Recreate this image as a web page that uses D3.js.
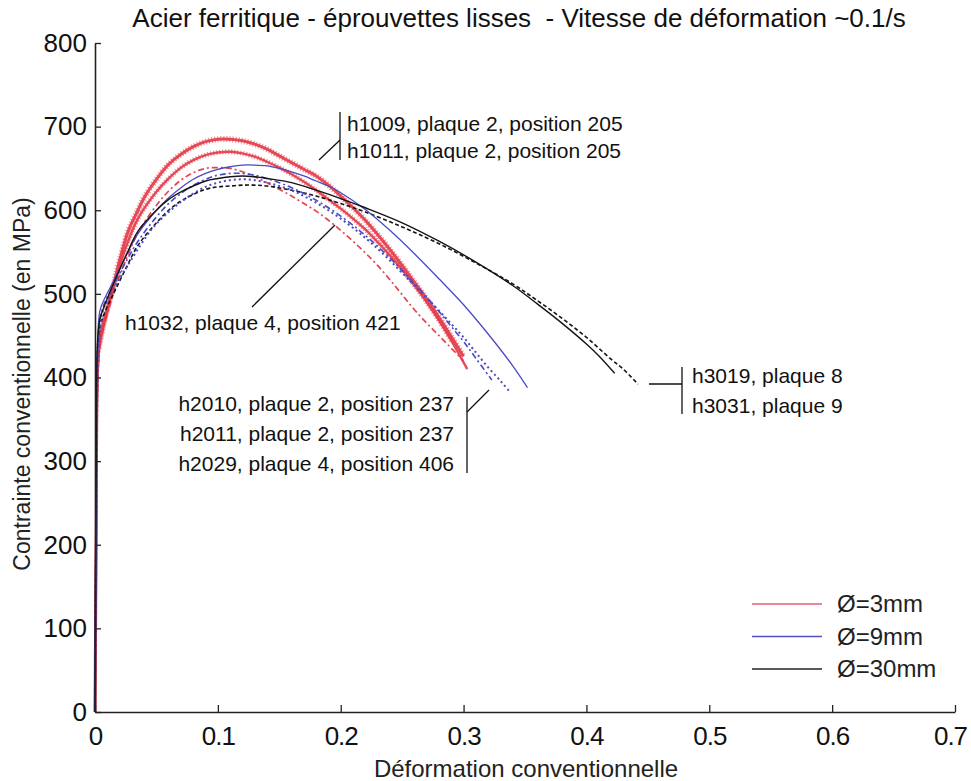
<!DOCTYPE html>
<html>
<head>
<meta charset="utf-8">
<script src="https://cdn.jsdelivr.net/npm/d3@7"></script>
<style>
  html, body { margin: 0; padding: 0; background: #fff; }
  svg { display: block; font-family: "Liberation Sans", Arial, sans-serif; }
  .pre { white-space: pre; }
</style>
</head>
<body>
<svg id="chart" width="971" height="781"></svg>
<script>
// ---------- DATA ----------
const xTicks = [0, 0.1, 0.2, 0.3, 0.4, 0.5, 0.6, 0.7];
const yTicks = [0, 100, 200, 300, 400, 500, 600, 700, 800];

// Ø = 3 mm specimens  [strain, stress MPa]
const h1009 = [[0,0],[0.001,200],[0.003,435],[0.006,460],[0.01,482],[0.015,510],[0.02,540],[0.027,575],[0.035,600],[0.04,615],[0.05,637],[0.06,655],[0.07,667],[0.08,676],[0.09,682],[0.1,685],[0.11,685],[0.12,683],[0.13,679],[0.14,673],[0.15,665],[0.16,657],[0.17,649],[0.18,641],[0.19,630],[0.2,617],[0.21,603],[0.22,588],[0.23,571],[0.24,553],[0.25,534],[0.26,514],[0.27,494],[0.28,472],[0.29,449],[0.30,425]];
const h1011 = [[0,0],[0.001,220],[0.002,400],[0.004,440],[0.008,468],[0.015,508],[0.025,555],[0.035,590],[0.05,622],[0.06,638],[0.07,651],[0.08,660],[0.09,666],[0.1,669],[0.11,670],[0.12,668],[0.13,664],[0.14,658],[0.15,651],[0.16,643],[0.17,634],[0.18,624],[0.19,613],[0.2,602],[0.21,590],[0.22,577],[0.23,562],[0.24,546],[0.25,529],[0.26,510],[0.27,490],[0.28,468],[0.29,444],[0.303,410]];
const h1032 = [[0,0],[0.001,210],[0.002,390],[0.004,438],[0.008,465],[0.015,500],[0.025,540],[0.035,573],[0.05,606],[0.06,623],[0.07,636],[0.08,645],[0.09,650],[0.1,651],[0.11,650],[0.12,646],[0.13,640],[0.14,633],[0.15,625],[0.16,617],[0.17,608],[0.18,599],[0.19,588],[0.2,576],[0.21,563],[0.22,549],[0.23,534],[0.24,517],[0.25,499],[0.26,481],[0.27,465],[0.28,450],[0.29,435],[0.30,420]];

// Ø = 9 mm specimens
const h2010 = [[0,0],[0.001,250],[0.002,430],[0.004,480],[0.008,495],[0.015,515],[0.025,545],[0.035,572],[0.05,600],[0.06,615],[0.07,627],[0.08,637],[0.09,644],[0.1,649],[0.11,652],[0.12,654],[0.13,654],[0.14,653],[0.15,650],[0.16,646],[0.17,641],[0.18,635],[0.19,629],[0.2,621],[0.22,601],[0.24,576],[0.26,548],[0.28,518],[0.30,487],[0.32,452],[0.34,414],[0.352,388]];
const h2011 = [[0,0],[0.001,240],[0.002,420],[0.004,470],[0.008,490],[0.015,510],[0.025,538],[0.035,563],[0.05,592],[0.06,608],[0.07,620],[0.08,630],[0.09,637],[0.1,642],[0.11,644],[0.12,644],[0.13,642],[0.14,638],[0.15,633],[0.16,627],[0.17,620],[0.18,612],[0.19,603],[0.2,593],[0.21,582],[0.22,570],[0.23,557],[0.24,543],[0.25,528],[0.26,512],[0.27,496],[0.28,479],[0.29,461],[0.30,443],[0.31,423],[0.323,397]];
const h2029 = [[0,0],[0.001,230],[0.003,430],[0.006,478],[0.01,492],[0.02,518],[0.03,542],[0.046,577],[0.06,598],[0.07,610],[0.08,620],[0.09,628],[0.1,633],[0.11,636],[0.12,637],[0.13,636],[0.14,633],[0.15,629],[0.16,624],[0.17,617],[0.18,609],[0.19,600],[0.2,590],[0.21,579],[0.22,567],[0.23,554],[0.24,540],[0.25,525],[0.26,510],[0.27,495],[0.28,480],[0.29,464],[0.30,448],[0.31,430],[0.32,412],[0.33,396],[0.338,382]];

// Ø = 30 mm specimens
const h3019 = [[0,0],[0.001,300],[0.002,440],[0.004,470],[0.008,487],[0.015,512],[0.025,545],[0.035,575],[0.05,600],[0.06,613],[0.07,622],[0.08,629],[0.09,635],[0.1,638],[0.11,640],[0.12,641],[0.13,640],[0.14,638],[0.16,633],[0.18,624],[0.2,614],[0.22,603],[0.25,585],[0.28,563],[0.31,538],[0.34,510],[0.36,488],[0.38,465],[0.40,440],[0.41,426],[0.423,405]];
const h3031 = [[0,0],[0.001,280],[0.002,430],[0.004,460],[0.008,478],[0.015,500],[0.025,530],[0.035,558],[0.05,585],[0.06,600],[0.07,611],[0.08,619],[0.09,625],[0.1,628],[0.11,629],[0.12,630],[0.13,630],[0.14,629],[0.16,624],[0.18,617],[0.2,608],[0.22,598],[0.25,580],[0.28,560],[0.31,537],[0.34,512],[0.36,492],[0.38,471],[0.40,448],[0.42,422],[0.43,410],[0.442,392]];

const legendLabels = ["Ø=3mm", "Ø=9mm", "Ø=30mm"];
const titleText = "Acier ferritique - éprouvettes lisses  - Vitesse de déformation ~0.1/s";
const xLabel = "Déformation conventionnelle";
const yLabel = "Contrainte conventionnelle (en MPa)";
const annot1 = ["h1009, plaque 2, position 205", "h1011, plaque 2, position 205"];
const annot2 = ["h1032, plaque 4, position 421"];
const annot3 = ["h2010, plaque 2, position 237", "h2011, plaque 2, position 237", "h2029, plaque 4, position 406"];
const annot4 = ["h3019, plaque 8", "h3031, plaque 9"];

// ---------- STYLES ----------
const RED = "#e33a48", BLUE = "#4a4ac4", BLACK = "#151515";
const series = [
  { data: h1009, color: RED,  width: 3.0, dash: null,      opacity: 0.9, fuzz: 6 },
  { data: h1011, color: RED,  width: 2.4, dash: null,      opacity: 0.9, fuzz: 5 },
  { data: h1032, color: RED,  width: 1.7, dash: "6 3 2 3", opacity: 0.95 },
  { data: h3031, color: BLACK, width: 1.6, dash: "4 2.5",  opacity: 1 },
  { data: h2029, color: BLUE, width: 2.0, dash: "2 3",     opacity: 1 },
  { data: h2011, color: BLUE, width: 1.6, dash: "6 3 2 3", opacity: 1 },
  { data: h2010, color: BLUE, width: 1.3, dash: null,      opacity: 1 },
  { data: h3019, color: BLACK, width: 1.4, dash: null,     opacity: 1 }
];

// ---------- CHART ----------
const svg = d3.select("#chart");
const x = d3.scaleLinear().domain([0, 0.7]).range([95, 955]);
const y = d3.scaleLinear().domain([0, 800]).range([712, 43]);

// title
svg.append("text").attr("class", "pre")
  .attr("x", 519).attr("y", 27).attr("text-anchor", "middle")
  .attr("font-size", 26).attr("fill", "#111").text(titleText);

// curves
const line = d3.line().x(d => x(d[0])).y(d => y(d[1])).curve(d3.curveCatmullRom.alpha(0.5));
const gCurves = svg.append("g").attr("fill", "none").attr("stroke-linejoin", "round");
series.forEach(s => {
  if (s.fuzz) {
    // marker-like fuzzy halo of the densely plotted 3 mm curves (plastic part)
    gCurves.append("path").datum(s.data.filter(d => d[1] >= 420)).attr("d", line)
      .attr("stroke", s.color).attr("stroke-width", s.fuzz)
      .attr("stroke-opacity", 0.55).attr("stroke-dasharray", "1.2 1.8");
  }
  gCurves.append("path").datum(s.data).attr("d", line)
    .attr("stroke", s.color).attr("stroke-width", s.width)
    .attr("stroke-opacity", s.opacity)
    .attr("stroke-dasharray", s.dash);
});

// axes
const fontTick = 26;
const xAxis = d3.axisBottom(x).tickValues(xTicks).tickSize(-7).tickSizeOuter(0).tickPadding(15)
  .tickFormat(d => d === 0 ? "0" : d3.format(".1f")(d));
const yAxis = d3.axisLeft(y).tickValues(yTicks).tickSize(-6).tickSizeOuter(0).tickPadding(8)
  .tickFormat(d3.format("d"));
const gx = svg.append("g").attr("transform", "translate(0,712)").call(xAxis);
const gy = svg.append("g").attr("transform", "translate(95,0)").call(yAxis);
[gx, gy].forEach(g => {
  g.selectAll("text").attr("font-size", fontTick).attr("fill", "#111")
    .attr("font-family", "'Liberation Sans', Arial, sans-serif");
  g.selectAll("line").attr("stroke", "#222").attr("stroke-width", 1.3);
  g.select(".domain").attr("stroke", "#222").attr("stroke-width", 1.6);
});
gx.selectAll("text").attr("letter-spacing", "-1px");
gx.selectAll(".tick").filter(d => d === 0.7).select("text").attr("dx", "-5");

// axis titles
svg.append("text").attr("x", 526).attr("y", 777).attr("text-anchor", "middle")
  .attr("font-size", 24).attr("fill", "#222").text(xLabel);
svg.append("text").attr("transform", "translate(30,384) rotate(-90)")
  .attr("text-anchor", "middle").attr("font-size", 23).attr("fill", "#222").text(yLabel);

// annotations
const gA = svg.append("g").attr("font-size", 21).attr("fill", "#111");
const ln = (x1, y1, x2, y2) => gA.append("line").attr("x1", x1).attr("y1", y1).attr("x2", x2).attr("y2", y2)
  .attr("stroke", "#111").attr("stroke-width", 1.3);
// 1
ln(340, 112, 340, 160); ln(319, 160, 340, 140);
annot1.forEach((t, i) => gA.append("text").attr("x", 347).attr("y", 131 + i * 27).text(t));
// 2
ln(252, 307, 335, 225);
annot2.forEach((t, i) => gA.append("text").attr("x", 125).attr("y", 330).text(t));
// 3
ln(467, 397, 467, 473); ln(467, 412, 489, 390);
annot3.forEach((t, i) => gA.append("text").attr("x", 454).attr("y", 411 + i * 30).attr("text-anchor", "end").text(t));
// 4
ln(649, 384, 682, 384); ln(682, 367, 682, 414);
annot4.forEach((t, i) => gA.append("text").attr("x", 692).attr("y", 383 + i * 30).text(t));

// legend
const legColors = ["#e26070", "#5050c0", "#222"];
const gL = svg.append("g");
legendLabels.forEach((t, i) => {
  const yy = 604 + i * 32.5;
  gL.append("line").attr("x1", 752).attr("x2", 822).attr("y1", yy).attr("y2", yy)
    .attr("stroke", legColors[i]).attr("stroke-width", 1.6);
  gL.append("text").attr("x", 837).attr("y", yy + 8).attr("font-size", 24)
    .attr("fill", "#222").text(t);
});
</script>
</body>
</html>
